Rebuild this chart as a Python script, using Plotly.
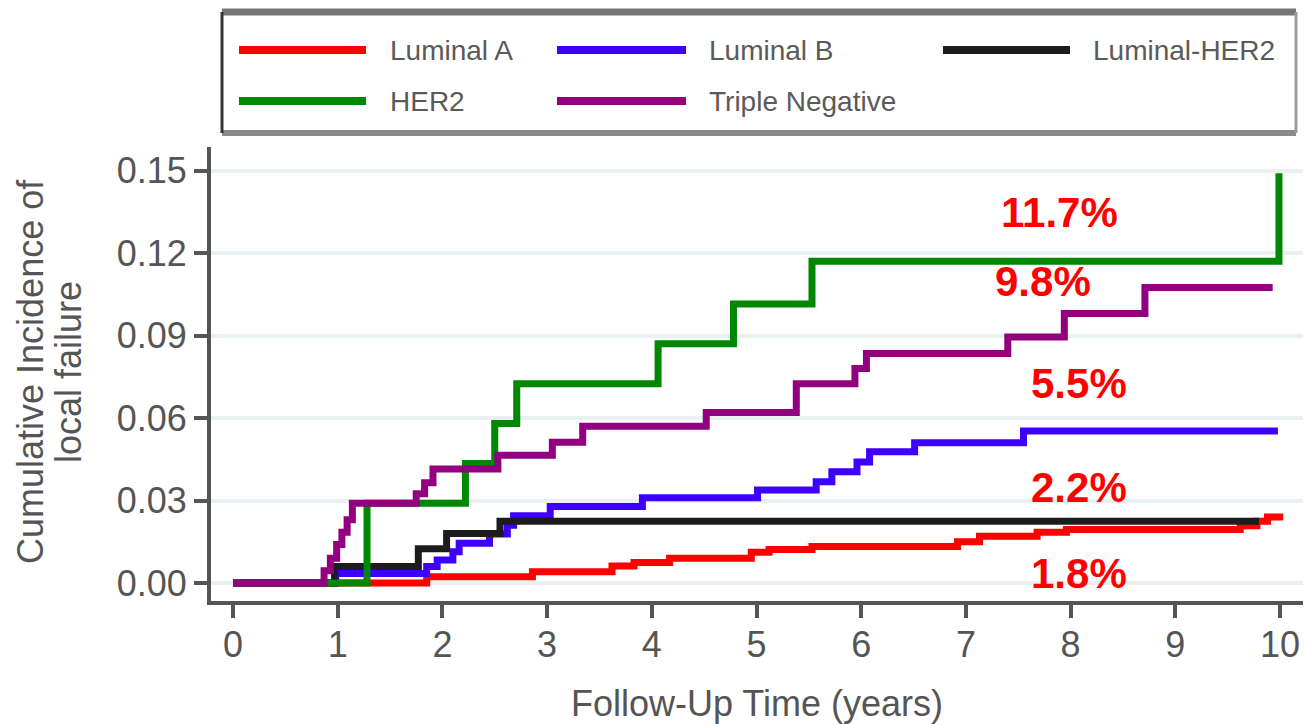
import plotly.graph_objects as go

# Cumulative incidence of local failure by molecular subtype (step curves)
luminal_a_t = [0, 1.85, 2.86, 3.62, 3.83, 4.17, 4.95, 5.12, 5.53, 6.92, 7.13, 7.68, 7.96, 9.62, 9.78, 9.88, 10.03]
luminal_a_v = [0, 0.0023, 0.0041, 0.0062, 0.0075, 0.0090, 0.0112, 0.0122, 0.0133, 0.0150, 0.0170, 0.0185, 0.0195, 0.0208, 0.0225, 0.0240, 0.0240]

luminal_b_t = [0, 0.98, 1.85, 1.95, 2.10, 2.16, 2.45, 2.62, 2.68, 3.03, 3.91, 5.01, 5.57, 5.72, 5.96, 6.08, 6.51, 7.55, 9.98]
luminal_b_v = [0, 0.0035, 0.0060, 0.0084, 0.0114, 0.0145, 0.0178, 0.0210, 0.0245, 0.0278, 0.0310, 0.0338, 0.0368, 0.0405, 0.0440, 0.0477, 0.0510, 0.0553, 0.0553]

luminal_her2_t = [0, 0.97, 1.77, 2.04, 2.55, 9.80]
luminal_her2_v = [0, 0.0060, 0.0125, 0.0180, 0.0225, 0.0225]

her2_t = [0, 1.28, 2.22, 2.50, 2.71, 4.06, 4.78, 5.53, 9.99]
her2_v = [0, 0.0290, 0.0435, 0.0580, 0.0725, 0.0870, 0.1015, 0.1170, 0.1490]

tn_t = [0, 0.87, 0.93, 0.99, 1.04, 1.09, 1.14, 1.75, 1.83, 1.91, 2.53, 3.05, 3.34, 4.52, 5.38, 5.94, 6.05, 7.40, 7.94, 8.71, 9.93]
tn_v = [0, 0.0045, 0.0090, 0.0140, 0.0185, 0.0230, 0.0290, 0.0325, 0.0365, 0.0415, 0.0465, 0.0512, 0.0570, 0.0620, 0.0725, 0.0780, 0.0835, 0.0895, 0.0980, 0.1075, 0.1075]

series_names = ["Luminal A", "Luminal B", "Luminal-HER2", "HER2", "Triple Negative"]
series_colors = ["#ff0000", "#3d00ff", "#1c1c1c", "#008800", "#92007f"]
series_data = [
    (luminal_a_t, luminal_a_v),
    (luminal_b_t, luminal_b_v),
    (luminal_her2_t, luminal_her2_v),
    (her2_t, her2_v),
    (tn_t, tn_v),
]

# Percentages printed beside the curves
pct_labels = ["11.7%", "9.8%", "5.5%", "2.2%", "1.8%"]
pct_x = [7.89, 7.74, 8.08, 8.08, 8.08]
pct_y = [0.1349, 0.1098, 0.0727, 0.0349, 0.0036]

x_ticks = list(range(0, 11))
y_ticks = [0.00, 0.03, 0.06, 0.09, 0.12, 0.15]

FONT = "Liberation Sans, Arial, sans-serif"
GREY = "#555555"

W, H = 1305, 725
ML, MR, MT, MB = 211, 2, 147, 124
PW, PH = W - ML - MR, H - MT - MB


def px(xp):
    return (xp - ML) / PW


def py(yp):
    return (H - MB - yp) / PH


fig = go.Figure()
for name, color, (t, v) in zip(series_names, series_colors, series_data):
    fig.add_trace(go.Scatter(
        x=t, y=v, mode="lines", name=name, line=dict(color=color, width=7, shape="hv"),
        showlegend=False, hoverinfo="x+y+name",
    ))

annotations = []
for txt, x, y in zip(pct_labels, pct_x, pct_y):
    annotations.append(dict(
        x=x, y=y, xref="x", yref="y", text=txt, showarrow=False,
        font=dict(family=FONT, size=42, color="#ff0000", weight="bold"),
        xanchor="center", yanchor="middle",
    ))

# Y-axis title, two rotated lines
for txt, xp in [("Cumulative Incidence of", 30), ("local failure", 68)]:
    annotations.append(dict(
        x=px(xp), y=py(372), xref="paper", yref="paper", text=txt, showarrow=False,
        textangle=-90, font=dict(family=FONT, size=36, color=GREY),
        xanchor="center", yanchor="middle",
    ))

# Legend box with swatches
shapes = []
box_l, box_r, box_t, box_b = 222, 1296, 12, 133
shapes.append(dict(type="line", xref="paper", yref="paper", x0=px(box_l), x1=px(box_r), y0=py(box_t), y1=py(box_t), line=dict(color="#767676", width=7)))
shapes.append(dict(type="line", xref="paper", yref="paper", x0=px(box_l), x1=px(box_r), y0=py(box_b), y1=py(box_b), line=dict(color="#8a8a8a", width=6)))
shapes.append(dict(type="line", xref="paper", yref="paper", x0=px(box_l), x1=px(box_l), y0=py(box_t), y1=py(box_b), line=dict(color="#333333", width=3)))
shapes.append(dict(type="line", xref="paper", yref="paper", x0=px(box_r), x1=px(box_r), y0=py(box_t), y1=py(box_b), line=dict(color="#9a9a9a", width=3)))

legend_slots = [(239, 366, 388, 50), (557, 686, 707, 50), (943, 1070, 1091, 50),
                (239, 366, 388, 101), (557, 686, 707, 101)]
for name, color, (s0, s1, tx, ty) in zip(series_names, series_colors, legend_slots):
    shapes.append(dict(type="line", xref="paper", yref="paper", x0=px(s0), x1=px(s1),
                       y0=py(ty), y1=py(ty), line=dict(color=color, width=8)))
    annotations.append(dict(
        x=px(tx), y=py(ty), xref="paper", yref="paper", text=name, showarrow=False,
        font=dict(family=FONT, size=28, color="#5a5a5a"), xanchor="left", yanchor="middle",
    ))

fig.update_layout(
    width=W, height=H,
    margin=dict(l=ML, r=MR, t=MT, b=MB),
    paper_bgcolor="white", plot_bgcolor="white",
    font=dict(family=FONT, color=GREY),
    annotations=annotations, shapes=shapes,
    xaxis=dict(
        range=[(ML - 233) / 104.7, (W - MR - 233) / 104.7],
        tickvals=x_ticks, ticktext=[str(v) for v in x_ticks],
        ticks="outside", ticklen=13, tickwidth=4, tickcolor=GREY,
        showline=True, linewidth=4, linecolor=GREY,
        showgrid=False, zeroline=False,
        tickfont=dict(family=FONT, size=36, color=GREY),
        ticklabelstandoff=-4,
        title=dict(text="Follow-Up Time (years)", font=dict(family=FONT, size=36, color=GREY), standoff=28),
    ),
    yaxis=dict(
        range=[(583 - (H - MB)) / 2750, (583 - MT) / 2750],
        tickvals=y_ticks, ticktext=[f"{v:.2f}" for v in y_ticks],
        ticks="outside", ticklen=13, tickwidth=4, tickcolor=GREY,
        showline=True, linewidth=4, linecolor=GREY,
        showgrid=True, gridcolor="#e8f0f2", gridwidth=4, zeroline=False,
        tickfont=dict(family=FONT, size=36, color=GREY),
    ),
)

fig.write_html("out.html")
